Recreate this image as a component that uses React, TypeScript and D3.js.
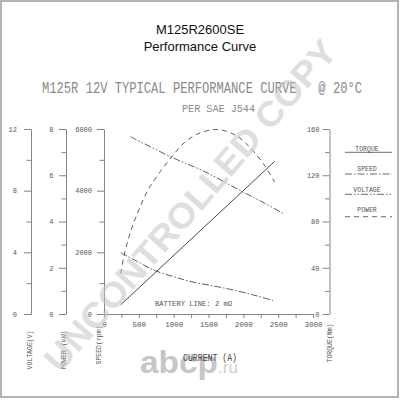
import React, { useEffect, useRef } from "react";
import * as d3 from "d3";

// ---- data ----
const powerCurrent = [240, 290, 380, 480, 620, 770, 960, 1150, 1340, 1630, 1920, 2110, 2300, 2450];
const powerKW = [1.75, 2.55, 3.55, 4.35, 5.3, 6.0, 6.75, 7.4, 7.78, 7.98, 7.68, 7.15, 6.45, 5.7];
const voltageCurrent = [380, 980, 1440, 1960, 2300, 2590];
const voltageV = [11.5, 10.15, 9.25, 8.0, 7.2, 6.47];
const speedCurrent = [240, 480, 740, 1000, 1250, 1750, 2150, 2450];
const speedRpm = [1990, 1700, 1400, 1210, 1050, 830, 615, 420];
const torqueCurrent = [240, 2450];
const torqueNm = [8, 132];

const currentTicks = [0, 500, 1000, 1500, 2000, 2500, 3000];
const currentMinor = [250, 750, 1250, 1750, 2250, 2750];
const voltageTicks = [0, 4, 8, 12];
const voltageMinor = [2, 6, 10];
const powerTicks = [0, 2, 4, 6, 8];
const powerMinor = [1, 3, 5, 7];
const speedTicks = [0, 2000, 4000, 6000];
const speedMinor = [1000, 3000, 5000];
const torqueTicks = [0, 40, 80, 120, 160];
const torqueMinor = [20, 60, 100, 140];

const legendItems = ["TORQUE", "SPEED", "VOLTAGE", "POWER"];

const MONO = "'Liberation Mono', 'DejaVu Sans Mono', monospace";
const SANS = "'Liberation Sans', Arial, sans-serif";

export default function App() {
  const gRef = useRef<SVGGElement | null>(null);

  const x = d3.scaleLinear().domain([0, 3000]).range([104, 313]);
  const yV = d3.scaleLinear().domain([0, 12]).range([314, 129]);
  const yP = d3.scaleLinear().domain([0, 8]).range([314, 129]);
  const yS = d3.scaleLinear().domain([0, 6000]).range([314, 129]);
  const yT = d3.scaleLinear().domain([0, 160]).range([314, 129]);

  useEffect(() => {
    const g = d3.select(gRef.current);
    g.selectAll("*").remove();

    const style = (sel: any) => {
      sel.select(".domain").attr("stroke", "#777").attr("stroke-width", 0.9);
      sel.selectAll(".tick line").attr("stroke", "#777").attr("stroke-width", 0.9);
      sel
        .selectAll(".tick text")
        .attr("fill", "#555")
        .attr("font-family", MONO)
        .attr("font-size", 7);
    };

    const addLeft = (scale: any, xpos: number, major: number[], minor: number[], fmt: (d: any) => string, pad: number) => {
      const a = g.append("g").attr("transform", `translate(${xpos},0)`);
      a.call(d3.axisLeft(scale).tickValues(major).tickSize(7).tickSizeOuter(0).tickPadding(pad).tickFormat(fmt as any));
      style(a);
      const m = g.append("g").attr("transform", `translate(${xpos},0)`);
      m.call(d3.axisLeft(scale).tickValues(minor).tickSize(4.5).tickSizeOuter(0).tickFormat(() => ""));
      m.select(".domain").remove();
      style(m);
    };

    addLeft(yV, 31, voltageTicks, voltageMinor, (d) => String(d), 7);
    addLeft(yP, 66, powerTicks, powerMinor, (d) => String(d), 5.5);
    addLeft(yS, 104, speedTicks, speedMinor, (d) => String(d), 5);
    addLeft(yT, 329.5, torqueTicks, torqueMinor, (d) => String(d), 3);

    const xa = g.append("g").attr("transform", "translate(0,314)");
    xa.call(d3.axisBottom(x).tickValues(currentTicks).tickSize(4).tickSizeOuter(0).tickPadding(3.5).tickFormat((d: any) => String(d)));
    style(xa);
    xa.selectAll(".tick text").attr("font-size", 7.5);
    const xm = g.append("g").attr("transform", "translate(0,314)");
    xm.call(d3.axisBottom(x).tickValues(currentMinor).tickSize(4).tickSizeOuter(0).tickFormat(() => ""));
    xm.select(".domain").remove();
    style(xm);
  }, []);

  const lineP = d3
    .line<number>()
    .x((_, i) => x(powerCurrent[i]))
    .y((d) => yP(d))
    .curve(d3.curveCatmullRom.alpha(0.5));
  const lineV = d3
    .line<number>()
    .x((_, i) => x(voltageCurrent[i]))
    .y((d) => yV(d))
    .curve(d3.curveCatmullRom.alpha(0.5));
  const lineS = d3
    .line<number>()
    .x((_, i) => x(speedCurrent[i]))
    .y((d) => yS(d))
    .curve(d3.curveCatmullRom.alpha(0.5));
  const lineT = d3
    .line<number>()
    .x((_, i) => x(torqueCurrent[i]))
    .y((d) => yT(d));

  const dashes: Record<string, string | undefined> = {
    TORQUE: undefined,
    SPEED: "7,2,1.5,2",
    VOLTAGE: "7,2,1.5,2,1.5,2",
    POWER: "5,4",
  };
  const legendTextY = [150.5, 171, 191.5, 212];
  const legendLineY = [152.3, 174, 194.3, 216.7];

  const axisTitles = [
    { t: "VOLTAGE(V)", x: 29.5, y: 350 },
    { t: "POWER (kW)", x: 63.5, y: 350 },
    { t: "SPEED(rpm)", x: 98.5, y: 345 },
    { t: "TORQUE(Nm)", x: 329.5, y: 343 },
  ];

  return (
    <svg
      width={400}
      height={400}
      style={{ position: "absolute", left: 0, top: 0, background: "#fff" }}
    >
      <rect x={0} y={0} width={400} height={400} fill="#fff" />
      <rect x={1} y={1} width={397} height={396} fill="none" stroke="#9a9a9a" strokeWidth={1.5} />

      <text x={200} y={34} textAnchor="middle" fontFamily={SANS} fontSize={13} fill="#111">
        M125R2600SE
      </text>
      <text x={200} y={50.5} textAnchor="middle" fontFamily={SANS} fontSize={13} fill="#111">
        Performance Curve
      </text>

      <text x={42} y={92.5} fontFamily={MONO} fontSize={16} fill="#8a8a8a" textLength={320} lengthAdjust="spacingAndGlyphs">
        {"M125R 12V TYPICAL PERFORMANCE CURVE\u00a0\u00a0\u00a0@ 20°C"}
      </text>
      <text x={182} y={111.5} fontFamily={MONO} fontSize={11} fill="#8a8a8a" textLength={73} lengthAdjust="spacingAndGlyphs">
        PER SAE J544
      </text>

      {/* abcp.ru logo */}
      <text x={140} y={373} fontFamily={SANS} fontWeight="bold" fontSize={31} fill="#c6c6c6" textLength={78} lengthAdjust="spacingAndGlyphs">
        abcp
      </text>
      <text x={218} y={373} fontFamily={SANS} fontSize={17} fill="#cfcfcf" textLength={20} lengthAdjust="spacingAndGlyphs">
        .ru
      </text>

      <g ref={gRef} />

      <path d={lineT(torqueNm) || ""} fill="none" stroke="#333" strokeWidth={0.9} />
      <path d={lineS(speedRpm) || ""} fill="none" stroke="#333" strokeWidth={0.8} strokeDasharray={dashes.SPEED} />
      <path d={lineV(voltageV) || ""} fill="none" stroke="#333" strokeWidth={0.8} strokeDasharray={dashes.VOLTAGE} />
      <path d={lineP(powerKW) || ""} fill="none" stroke="#333" strokeWidth={0.8} strokeDasharray={dashes.POWER} />

      {axisTitles.map((a) => (
        <text
          key={a.t}
          transform={`translate(${a.x},${a.y}) rotate(-90)`}
          textAnchor="middle"
          dy="0.35em"
          fontFamily={MONO}
          fontSize={6.5}
          fill="#555"
        >
          {a.t}
        </text>
      ))}

      {legendItems.map((name, i) => (
        <g key={name}>
          <text x={367} y={legendTextY[i]} textAnchor="middle" fontFamily={MONO} fontSize={6.5} fill="#555">
            {name}
          </text>
          <line x1={345} x2={392} y1={legendLineY[i]} y2={legendLineY[i]} stroke="#444" strokeWidth={0.8} strokeDasharray={dashes[name]} />
        </g>
      ))}

      <text x={155} y={306} fontFamily={MONO} fontSize={7.5} fill="#555" textLength={77} lengthAdjust="spacingAndGlyphs">
        BATTERY LINE: 2 mΩ
      </text>
      <text x={183} y={360.5} fontFamily={MONO} fontSize={10} fill="#444" textLength={54} lengthAdjust="spacingAndGlyphs">
        CURRENT (A)
      </text>

      {/* watermark */}
      <text
        transform="translate(190,205) rotate(-49)"
        textAnchor="middle"
        dy="0.36em"
        fontFamily={SANS}
        fontWeight="bold"
        fontSize={35}
        fill="#c4c4c4"
        opacity={0.55}
        textLength={425}
        lengthAdjust="spacingAndGlyphs"
      >
        UNCONTROLLED COPY
      </text>
    </svg>
  );
}
